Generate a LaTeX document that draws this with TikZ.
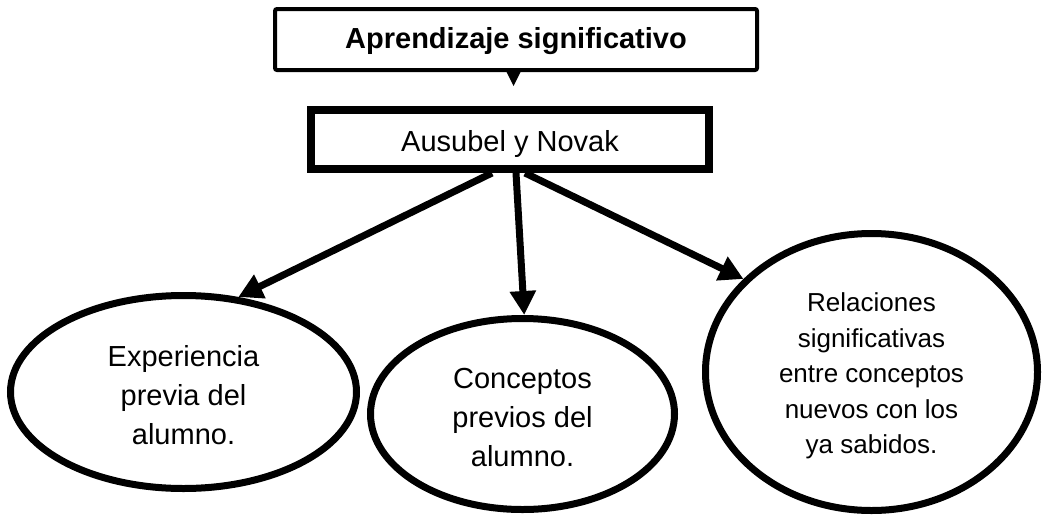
\documentclass[tikz,border=0pt]{standalone}
\usepackage{fontspec}
\setmainfont{Liberation Sans}
\usetikzlibrary{shapes.geometric,arrows.meta}
\begin{document}
\begin{tikzpicture}[x=1pt,y=-1pt,
  titlebox/.style={draw,line width=4pt,rounded corners=2pt,inner sep=0pt,
    minimum width=482pt,minimum height=61pt,text height=23.6pt,text depth=6pt,
    font=\fontsize{29}{35}\selectfont\bfseries},
  authbox/.style={draw,line width=8pt,inner sep=0pt,
    minimum width=398pt,minimum height=59pt,text height=30pt,text depth=6pt,
    font=\fontsize{29}{35}\selectfont},
  idea/.style={draw,ellipse,line width=7pt,inner sep=0pt},
  bigtxt/.style={align=center,inner sep=0pt,font=\fontsize{29}{39}\selectfont},
  smalltxt/.style={align=center,inner sep=0pt,font=\fontsize{26}{35.5}\selectfont},
  link/.style={line width=7pt,-{Triangle[width=25pt,length=24pt]}},
]
\useasboundingbox (0,0) rectangle (1044,517);
\node[titlebox] (title) at (516,39.5) {Aprendizaje significativo};
\node[authbox] (auth) at (510,139.5) {Ausubel y Novak};
\coordinate (tip) at (513.5,86);
\coordinate (tb) at (tip |- title.south);
\fill ([xshift=-7pt]tb) -- ([xshift=7pt]tb) -- (tip) -- cycle;

\node[idea,minimum width=346pt,minimum height=193pt] (exp) at (183.5,392) {};
\node[bigtxt] (exptxt) at ([yshift=-3pt]exp.center) {Experiencia\\previa del\\alumno.};
\node[idea,minimum width=304pt,minimum height=191pt] (con) at (522.5,414) {};
\node[bigtxt] (contxt) at ([yshift=-3.5pt]con.center) {Conceptos\\previos del\\alumno.};
\node[idea,minimum width=332pt,minimum height=277pt] (rel) at (871.5,372) {};
\node[smalltxt] (reltxt) at ([yshift=-4pt]rel.center) {Relaciones\\significativas\\entre conceptos\\nuevos con los\\ya sabidos.};

\draw[link] ([xshift=-18pt]auth.south) -- (exp.60);
\draw[link] ([xshift=6pt]auth.south) -- (con.89);
\draw[link] ([xshift=15pt]auth.south) -- (rel.144);
\end{tikzpicture}
\end{document}
